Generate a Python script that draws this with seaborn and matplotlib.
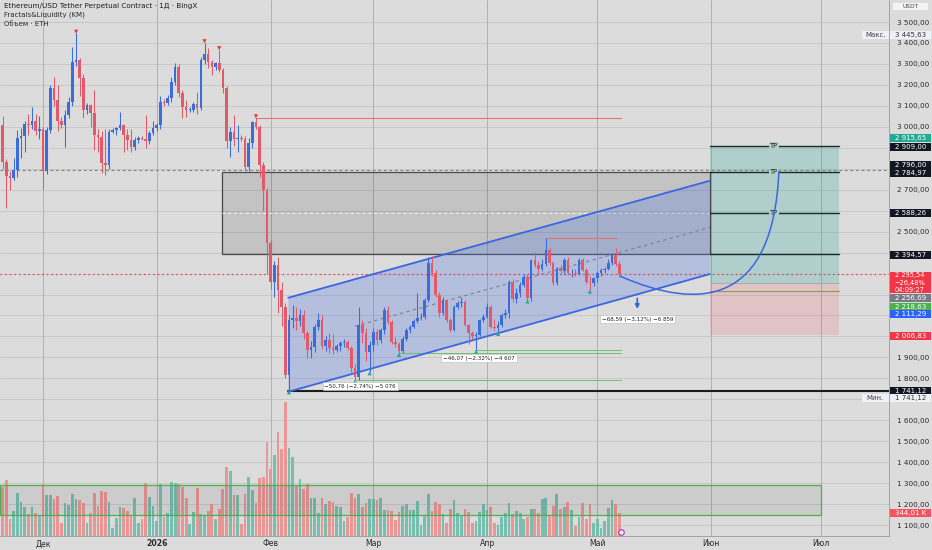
import numpy as np
import pandas as pd
import matplotlib
matplotlib.use("Agg")
import matplotlib.pyplot as plt
import seaborn as sns
from matplotlib.patches import Rectangle, Polygon, PathPatch
from matplotlib.path import Path

# ----------------------------------------------------------------- data
first_day = "2025-11-19"
last_day = "2026-05-07"

opens = [
    # Nov 19-30
    3120, 3010, 2830, 2765, 2755, 2795, 2945, 2955, 3015, 3008, 3028, 2978,
    # Dec
    2988, 2790, 2985, 3185, 3130, 3030, 3010, 3055, 3120, 3310, 3320, 3232, 3080, 3104, 3065, 2962,
    2950, 2826, 2820, 2977, 2986, 2994, 3009, 2962, 2938, 2906, 2937, 2946, 2944, 2930, 2970,
    # Jan
    2993, 3010, 3120, 3112, 3136, 3216, 3287, 3160, 3096, 3080, 3080, 3110, 3090, 3319, 3346, 3311,
    3287, 3303, 3271, 3184, 2930, 2977, 2940, 2945, 2940, 2810, 2922, 3025, 3001, 2818, 2700,
    # Feb
    2446, 2262, 2340, 2221, 2140, 1818, 2078, 2090, 2075, 2100, 2015, 1936, 1950, 2047, 2080, 1955,
    1985, 1945, 1935, 1955, 1967, 1975, 1945, 1850, 1805, 2055, 2015, 1928,
    # Mar
    1960, 2023, 1985, 2030, 2126, 2071, 1975, 1965, 1930, 1990, 2031, 2047, 2074, 2087, 2095, 2174,
    2349, 2301, 2198, 2110, 2174, 2079, 2031, 2142, 2160, 2166, 2055, 2015, 2000, 2007, 2079,
    # Apr
    2095, 2142, 2047, 2040, 2055, 2102, 2110, 2261, 2180, 2205, 2245, 2285, 2182, 2364, 2341, 2320,
    2345, 2412, 2349, 2253, 2325, 2310, 2364, 2301, 2305, 2300, 2364, 2317, 2261, 2253,
    # May 1-7
    2277, 2301, 2317, 2320, 2350, 2388, 2345,
]
highs = [
    3140, 3050, 2845, 2790, 2850, 2985, 2995, 3030, 3060, 3095, 3060, 3050,
    3000, 3000, 3200, 3240, 3200, 3045, 3080, 3140, 3380, 3445.63, 3330, 3250, 3115, 3110, 3176, 2990,
    2980, 2990, 2990, 2995, 3000, 3073, 3015, 2990, 2990, 2950, 2955, 2956, 3057, 2980, 3030,
    3020, 3145, 3135, 3150, 3240, 3305, 3300, 3175, 3128, 3095, 3120, 3168, 3335, 3400, 3375, 3320,
    3310, 3367, 3280, 3195, 3000, 3057, 3010, 2960, 2955, 2945, 3030, 3042, 3010, 2830, 2710,
    2460, 2360, 2380, 2260, 2160, 2100, 2150, 2140, 2130, 2125, 2025, 1980, 2060, 2110, 2100, 2000,
    2015, 2010, 1965, 1980, 1990, 1985, 1955, 1870, 2142, 2080, 2040, 1980,
    2040, 2035, 2040, 2140, 2145, 2080, 1995, 1975, 2000, 2040, 2055, 2085, 2206, 2110, 2185, 2381,
    2385, 2315, 2210, 2190, 2180, 2090, 2150, 2170, 2190, 2175, 2060, 2025, 2020, 2085, 2105,
    2160, 2150, 2085, 2075, 2110, 2130, 2270, 2275, 2230, 2260, 2300, 2300, 2370, 2404, 2360, 2370,
    2468, 2420, 2360, 2330, 2340, 2375, 2380, 2320, 2320, 2375, 2372, 2325, 2290, 2285,
    2310, 2325, 2330, 2370, 2400, 2422, 2360,
]
lows = [
    2990, 2800, 2615, 2700, 2745, 2760, 2850, 2880, 2960, 2990, 2960, 2940,
    2705, 2775, 2970, 3100, 2980, 2995, 2905, 3040, 3100, 3290, 3145, 3040, 3060, 3000, 2890, 2880,
    2780, 2770, 2800, 2970, 2960, 2985, 2880, 2890, 2880, 2890, 2925, 2935, 2900, 2920, 2960,
    2980, 2990, 3100, 3105, 3120, 3200, 3140, 3040, 3049, 3070, 3070, 3060, 3080, 3300, 3280, 3248,
    3270, 3260, 3160, 2900, 2858, 2910, 2880, 2930, 2790, 2790, 2900, 2990, 2760, 2600, 2300,
    2225, 2190, 2110, 2050, 1800, 1741.12, 2040, 2030, 2050, 1990, 1895, 1895, 1925, 2030, 1940, 1930,
    1920, 1915, 1925, 1930, 1950, 1935, 1830, 1792, 1790, 1970, 1885, 1832,
    1930, 1960, 1970, 2010, 2060, 1965, 1950, 1920, 1920, 1980, 2015, 2040, 2065, 2080, 2085, 2165,
    2290, 2190, 2095, 2100, 2070, 2020, 2025, 2130, 2140, 2050, 1965, 1990, 1936, 2000, 2070,
    2090, 2040, 2030, 2020, 2045, 2090, 2090, 2165, 2160, 2190, 2235, 2175, 2170, 2330, 2300, 2310,
    2335, 2340, 2245, 2245, 2300, 2300, 2295, 2285, 2290, 2295, 2310, 2250, 2222, 2240,
    2260, 2290, 2305, 2315, 2340, 2335, 2285,
]
closes = [
    3010, 2830, 2765, 2755, 2795, 2945, 2955, 3015, 3008, 3028, 2978, 2988,
    2790, 2985, 3185, 3130, 3030, 3010, 3055, 3120, 3310, 3320, 3232, 3080, 3104, 3065, 2962, 2950,
    2826, 2820, 2977, 2986, 2994, 3009, 2962, 2938, 2906, 2937, 2946, 2944, 2930, 2970, 2993,
    3010, 3120, 3112, 3136, 3216, 3287, 3160, 3096, 3080, 3080, 3110, 3090, 3319, 3346, 3311, 3287,
    3303, 3271, 3184, 2930, 2977, 2940, 2945, 2940, 2810, 2922, 3025, 3001, 2818, 2700, 2446,
    2262, 2340, 2221, 2140, 1818, 2078, 2090, 2075, 2100, 2015, 1936, 1950, 2047, 2080, 1955, 1985,
    1945, 1935, 1955, 1967, 1975, 1945, 1850, 1805, 2055, 2015, 1928, 1960,
    2023, 1985, 2030, 2126, 2071, 1975, 1965, 1930, 1990, 2031, 2047, 2074, 2087, 2095, 2174, 2349,
    2301, 2198, 2110, 2174, 2079, 2031, 2142, 2160, 2166, 2055, 2015, 2000, 2007, 2079, 2095,
    2142, 2047, 2040, 2055, 2102, 2110, 2261, 2180, 2205, 2245, 2285, 2182, 2364, 2341, 2320, 2345,
    2412, 2349, 2253, 2325, 2310, 2364, 2301, 2305, 2300, 2364, 2317, 2261, 2253, 2277,
    2301, 2317, 2320, 2350, 2388, 2345, 2295.54,
]
volume_k = [
    771, 722, 815, 244, 366, 634, 498, 425, 317, 429, 342, 293,
    756, 595, 595, 537, 586, 185, 488, 449, 610, 537, 527, 478, 185, 342, 634, 439,
    659, 644, 503, 122, 268, 429, 415, 366, 293, 561, 185, 254, 781, 571, 439,
    220, 756, 283, 342, 791, 781, 756, 722, 561, 171, 356, 708, 317, 303, 366, 464,
    244, 390, 683, 1015, 947, 595, 595, 171, 615, 869, 673, 488, 849, 864, 1381,
    986, 1186, 1523, 1269, 1967, 1288, 1157, 732, 839, 683, 766, 551, 551, 342, 561, 473,
    512, 498, 439, 425, 220, 283, 634, 561, 620, 425, 478, 537,
    537, 527, 551, 376, 376, 366, 234, 351, 439, 473, 376, 376, 512, 161, 293, 620,
    366, 503, 473, 317, 185, 400, 522, 342, 303, 400, 356, 185, 220, 356, 464,
    376, 429, 195, 156, 278, 342, 478, 317, 371, 332, 254, 283, 400, 400, 342, 537,
    551, 303, 439, 620, 390, 425, 498, 376, 146, 283, 488, 244, 464, 195,
    244, 122, 220, 415, 527, 473, 344.01,
]

month_ticks = ["2025-12-01", "2026-01-01", "2026-02-01", "2026-03-01",
               "2026-04-01", "2026-05-01", "2026-06-01", "2026-07-01"]
month_labels = ["Дек", "2026", "Фев", "Мар", "Апр", "Май", "Июн", "Июл"]
price_ticks = list(range(1100, 3600, 100))
price_ticks_shown = [3500, 3400, 3300, 3200, 3100, 3000, 2700, 2500,
                     1900, 1800, 1600, 1500, 1400, 1300, 1200, 1100]

# drawing levels
zone_top, zone_mid, zone_bot = 2784.97, 2588.26, 2394.57
tp_levels = [2909.00, 2784.97, 2588.26]
tp_base = 2394.57
entry_price, stop_price, olive_level = 2256.69, 2006.83, 2218.63
dash_level = 2796.00
low_level = 1741.12
last_price = 2295.54
channel_start, channel_end = "2026-02-05 20:00", "2026-05-31 17:00"
channel_upper = [2184.6, 2742.8]
channel_lower = [1736.0, 2297.7]
zone_start = "2026-01-18 19:00"
tp_end = "2026-07-05 19:00"
vol_zone = [1148, 1291]
fractal_high_days = ["2025-12-10", "2026-01-14", "2026-01-18", "2026-01-28"]
fractal_low_days = ["2026-02-06", "2026-02-24", "2026-02-28", "2026-03-08",
                    "2026-03-29", "2026-04-04", "2026-04-12", "2026-04-29"]
red_liq_days = [("2026-01-28", "2026-05-07"), ("2026-04-17", "2026-05-06")]
green_liq_days = [("2026-02-24", "2026-05-07"), ("2026-03-08", "2026-05-07"),
                  ("2026-03-29", "2026-05-07")]
curve_days = ["2026-05-07 05:00", "2026-05-29", "2026-06-18", "2026-06-19 12:00"]
curve_prices = [2288, 2120, 2150, 2790]
measures = [("−50,76 (−2,74%) −5 076", "2026-02-25 10:00", 1763),
            ("−46,07 (−2,32%) −4 607", "2026-03-29 19:00", 1897),
            ("−68,59 (−3,12%) −6 859", "2026-05-11 22:00", 2083)]
arrow_day, arrow_from, arrow_to = "2026-05-11 22:00", 2195, 2118

axis_labels = [  # text, pixel y centre, background, text colour
    ("2 915,65", 138.3, "#22ab94", "white"),
    ("2 909,00", 147.0, "#131722", "white"),
    ("2 796,00", 165.5, "#131722", "white"),
    ("2 784,97", 173.3, "#131722", "white"),
    ("2 588,26", 213.3, "#131722", "white"),
    ("2 394,57", 255.0, "#131722", "white"),
    ("2 256,69", 298.3, "#787b86", "white"),
    ("2 218,63", 306.7, "#4caf50", "white"),
    ("2 111,29", 314.3, "#2962ff", "white"),
    ("2 006,83", 335.8, "#f23645", "white"),
    ("1 741,12", 391.0, "#131722", "white"),
    ("344,01 K", 513.0, "#f7525f", "white"),
]

# ----------------------------------------------------------------- setup
sns.set_theme(style="white")
plt.rcParams["font.family"] = ["DejaVu Sans"]

W, H = 932, 550
BG = "#dcdcdc"
fig = plt.figure(figsize=(W / 100, H / 100), dpi=100)
fig.patch.set_facecolor(BG)
ax = fig.add_axes([0, 14 / H, 889 / W, 536 / H])
ax.set_facecolor(BG)

ref = pd.Timestamp("2025-12-01")
def day(s):
    return (pd.Timestamp(s) - ref) / pd.Timedelta(days=1)

dates = pd.date_range(first_day, last_day, freq="D")
xd = np.array([(d - ref).days for d in dates], dtype=float)
o = np.array(opens, float); h = np.array(highs, float)
l = np.array(lows, float); c = np.array(closes, float)
up = c >= o
UP, DN = "#3b6cdc", "#e2596a"
VUP, VDN = "#6cbcab", "#eb8f8d"

ax.set_xlim(-11.72, 230.5)
ax.set_ylim(1048, 3605)

# ----------------------------------------------------------------- volume (overlay, behind price)
ax2 = ax.twinx()
ax.set_zorder(2); ax2.set_zorder(1)
ax.patch.set_visible(False)
ax2.set_facecolor(BG)
ax2.patch.set_visible(True)
ax2.set_ylim(0, 536 * 14.64)
ax2.bar(xd, volume_k, width=0.74, color=np.where(up, VUP, VDN), alpha=0.9, lw=0, zorder=2)
ax2.set_yticks([])
ax2.set_xlim(ax.get_xlim())
for s in ax2.spines.values():
    s.set_visible(False)
ax2.grid(False)
ax2.tick_params(axis="x", length=0, labelbottom=False)
# price grid drawn on the background axis so it sits behind the volume bars
for p in range(1100, 3600, 100):
    ax2.axhline((p - 1048) / (3605 - 1048) * 536 * 14.64, color="#c5c5c5", lw=0.6, zorder=0)
for m in month_ticks:
    ax2.axvline(day(m), color="#a9a9a9", lw=0.6, zorder=0)

# ticks / labels on the price axis
ax.set_yticks(price_ticks)
ax.set_yticklabels([(f"{p:,.2f}".replace(",", " ").replace(".", ",") if p in price_ticks_shown else "")
                    for p in price_ticks])
ax.set_xticks([day(m) for m in month_ticks])
ax.set_xticklabels(month_labels)
ax.grid(False)
ax.yaxis.tick_right()
ax.yaxis.set_label_position("right")
ax.tick_params(axis="y", which="both", left=False, right=False, labelleft=False, labelright=True,
               length=0, pad=6, labelsize=5.2, labelcolor="#2a2a2a")
ax.tick_params(axis="x", length=0, pad=2.5, labelsize=5.6, labelcolor="#2a2a2a")
for t in ax.get_xticklabels():
    if t.get_text() == "2026":
        t.set_fontweight("bold")
for s in ["top", "left"]:
    ax.spines[s].set_visible(False)
for s in ["right", "bottom"]:
    ax.spines[s].set_color("#9a9a9a"); ax.spines[s].set_linewidth(0.6)

# ----------------------------------------------------------------- zones
x_left, x_right = ax.get_xlim()
z0, ch0, ch1, tpe = day(zone_start), day(channel_start), day(channel_end), day(tp_end)
ax.add_patch(Rectangle((z0, zone_bot), ch1 - z0, zone_top - zone_bot, fc="#000000", alpha=0.11,
                       ec="none", zorder=1))
ax.add_patch(Rectangle((z0, zone_bot), ch1 - z0, zone_top - zone_bot, fc="none", ec="#4a4a4a",
                       lw=0.9, zorder=1.2))
ax.plot([z0, ch1], [zone_mid, zone_mid], color="white", lw=0.7, ls=(0, (3, 3)), alpha=0.8, zorder=1.3)

# TP / SL box
ax.add_patch(Rectangle((ch1, entry_price), tpe - ch1, tp_levels[0] - entry_price, fc="#26a69a",
                       alpha=0.24, ec="none", zorder=1))
ax.add_patch(Rectangle((ch1, stop_price), tpe - ch1, entry_price - stop_price, fc="#f23645",
                       alpha=0.15, ec="none", zorder=1))
for lv in tp_levels + [tp_base]:
    ax.plot([ch1, tpe], [lv, lv], color="#1b2a24", lw=1.0, zorder=3)
for lv in tp_levels:
    ax.text((ch1 + tpe) / 2, lv, "TP", ha="center", va="center", fontsize=4.8, color="#222",
            bbox=dict(fc="#b1cfc4", ec="none", pad=0.6), zorder=4)
ax.plot([ch1, tpe], [olive_level, olive_level], color="#8c9a4e", lw=0.8, zorder=3)
ax.plot([ch1, tpe], [entry_price, entry_price], color="#9aa0a6", lw=0.5, zorder=3)

# full-width lines
ax.plot([x_left, x_right], [dash_level, dash_level], color="#808080", lw=0.8, ls=(0, (2.5, 2.5)), zorder=2)
ax.plot([x_left, x_right], [last_price, last_price], color="#f23645", lw=0.9, ls=(0, (1.2, 2.5)), zorder=2)
ax.plot([ch0, x_right], [low_level, low_level], color="#1c1c1c", lw=1.5, zorder=3)

# volume zone
ax.add_patch(Rectangle((x_left, vol_zone[0]), day("2026-07-01") - x_left, vol_zone[1] - vol_zone[0],
                       fc="#000000", alpha=0.07, ec="none", zorder=1))
ax.add_patch(Rectangle((x_left, vol_zone[0]), day("2026-07-01") - x_left, vol_zone[1] - vol_zone[0],
                       fc="none", ec="#4caf50", lw=0.9, zorder=1.2))

# channel
chan = Polygon([(ch0, channel_upper[0]), (ch1, channel_upper[1]),
                (ch1, channel_lower[1]), (ch0, channel_lower[0])],
               closed=True, fc="#5a7fe0", alpha=0.30, ec="none", zorder=1.5)
ax.add_patch(chan)
ax.plot([ch0, ch1], channel_upper, color="#3a67e0", lw=1.3, zorder=3)
ax.plot([ch0, ch1], channel_lower, color="#3a67e0", lw=1.3, zorder=3)
m0 = day("2026-02-24")
f0 = (m0 - ch0) / (ch1 - ch0)
mid0 = (channel_upper[0] + channel_lower[0]) / 2
mid1 = (channel_upper[1] + channel_lower[1]) / 2
mids = pd.DataFrame({"x": [m0, ch1], "y": [mid0 + f0 * (mid1 - mid0), mid1]})
sns.lineplot(data=mids, x="x", y="y", ax=ax, color="#7a7f90", lw=0.8, ls=(0, (3, 3)), zorder=2)

# liquidity lines
for a, b in red_liq_days:
    lv = h[list(dates).index(pd.Timestamp(a))]
    ax.plot([day(a), day(b) + 0.5], [lv, lv], color="#e57373", lw=0.8, zorder=2)
for a, b in green_liq_days:
    lv = l[list(dates).index(pd.Timestamp(a))]
    ax.plot([day(a), day(b) + 0.5], [lv, lv], color="#6fbf73", lw=0.7, zorder=2)

# ----------------------------------------------------------------- candles
ax.vlines(xd, l, h, colors=np.where(up, UP, DN), lw=0.75, zorder=4)
ax.bar(xd, np.maximum(np.abs(c - o), 3), bottom=np.minimum(o, c), width=0.72,
       color=np.where(up, UP, DN), lw=0, zorder=5)

# fractal markers
fh = pd.DataFrame({"x": [day(d) for d in fractal_high_days],
                   "y": [h[list(dates).index(pd.Timestamp(d))] + 8 for d in fractal_high_days]})
fl = pd.DataFrame({"x": [day(d) for d in fractal_low_days],
                   "y": [l[list(dates).index(pd.Timestamp(d))] - 8 for d in fractal_low_days]})
sns.scatterplot(data=fh, x="x", y="y", ax=ax, marker="v", s=9, color="#e53935", edgecolor="none", zorder=6)
sns.scatterplot(data=fl, x="x", y="y", ax=ax, marker="^", s=9, color="#26a69a", edgecolor="none", zorder=6)

# projected path
cx = [day(d) for d in curve_days]
path = Path(list(zip(cx, curve_prices)), [Path.MOVETO, Path.CURVE4, Path.CURVE4, Path.CURVE4])
ax.add_patch(PathPatch(path, fc="none", ec="#3a67e0", lw=1.1, zorder=6))
ax.annotate("", xy=(day(arrow_day), arrow_to), xytext=(day(arrow_day), arrow_from),
            arrowprops=dict(arrowstyle="-|>", color="#2f63e0", lw=1.2, mutation_scale=6), zorder=6)

for txt, d, p in measures:
    ax.text(day(d), p, txt, ha="center", va="center", fontsize=4.1, color="#222",
            bbox=dict(fc="white", ec="#b8b8b8", lw=0.4, pad=1.2), zorder=7)

ax.scatter([day("2026-05-07 12:00")], [1069], s=16, facecolor="#f3e5f5", edgecolor="#9c27b0",
           lw=0.7, zorder=8)
ax.set_xlabel(""); ax.set_ylabel("")
ax.set_xlim(x_left, x_right)

# ----------------------------------------------------------------- text
fig.text(4 / W, 1 - 5.5 / H, "Ethereum/USD Tether Perpetual Contract · 1Д · BingX", fontsize=5.2,
         color="#1e1e1e", va="center", ha="left")
fig.text(4 / W, 1 - 14.5 / H, "Fractals&Liquidity (KM)", fontsize=5.0, color="#2a2a2a",
         va="center", ha="left")
fig.text(4 / W, 1 - 23.5 / H, "Объем · ETH", fontsize=5.0, color="#2a2a2a", va="center", ha="left")

def box_label(y_px, text, bg, fg, x0=889.5, x1=931, h=8.0, fs=5.0):
    fig.patches.append(Rectangle((x0 / W, 1 - (y_px + h / 2) / H), (x1 - x0) / W, h / H,
                                 transform=fig.transFigure, fc=bg, ec="none", zorder=5))
    fig.text(((x0 + x1) / 2) / W, 1 - y_px / H, text, color=fg, fontsize=fs,
             ha="center", va="center", zorder=6)

box_label(6, "USDT", "#f4f4f4", "#444", x0=893, x1=928, h=7, fs=4.2)
box_label(34.7, "Макс.", "#eef1f8", "#444", x0=862, x1=888.5)
box_label(34.7, "3 445,63", "#eef1f8", "#333")
for txt, yp, bg, fg in axis_labels:
    box_label(yp, txt, bg, fg)
# current price block (3 lines)
fig.patches.append(Rectangle((889.5 / W, 1 - 293.3 / H), 41.5 / W, 21.6 / H,
                             transform=fig.transFigure, fc="#f23645", ec="none", zorder=5))
for k, t in enumerate(["2 295,54", "−26,48%", "04:09:27"]):
    fig.text(910 / W, 1 - (275.5 + k * 7.0) / H, t, color="white", fontsize=4.8,
             ha="center", va="center", zorder=6)
box_label(398.3, "Мин.", "#eef1f8", "#444", x0=862, x1=888.5)
box_label(398.3, "1 741,12", "#eef1f8", "#333")

fig.savefig("out.png", dpi=100, facecolor=BG)
